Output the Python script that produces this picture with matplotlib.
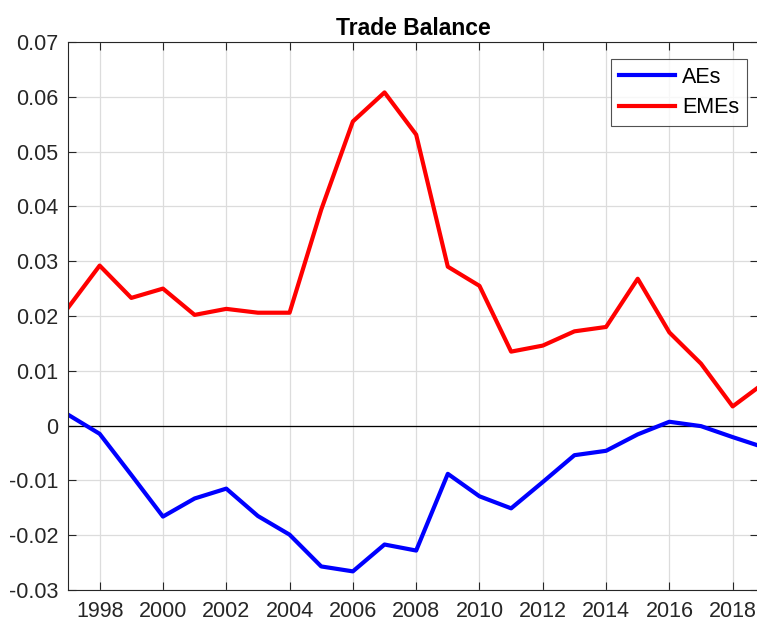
import matplotlib.pyplot as plt

plt.rcParams["font.family"] = ["Liberation Sans", "DejaVu Sans"]

years = list(range(1997, 2020))
aes = [0.0020, -0.0015, -0.0090, -0.0166, -0.0133, -0.0115, -0.0165, -0.0199,
       -0.0257, -0.0266, -0.0217, -0.0228, -0.0088, -0.0129, -0.0151, -0.0103,
       -0.0054, -0.0046, -0.0016, 0.0007, -0.0001, -0.0021, -0.0040]
emes = [0.0215, 0.0292, 0.0233, 0.0250, 0.0202, 0.0213, 0.0206, 0.0206,
        0.0394, 0.0555, 0.0608, 0.0531, 0.0290, 0.0255, 0.0135, 0.0146,
        0.0172, 0.0180, 0.0268, 0.0170, 0.0113, 0.0035, 0.0078]
xticks = list(range(1998, 2020, 2))
yticks = [-0.03, -0.02, -0.01, 0, 0.01, 0.02, 0.03, 0.04, 0.05, 0.06, 0.07]
ylabels = ["-0.03", "-0.02", "-0.01", "0", "0.01", "0.02", "0.03",
           "0.04", "0.05", "0.06", "0.07"]

fig = plt.figure(figsize=(7.57, 6.23), dpi=100)
ax = fig.add_axes([68 / 757, 33 / 623, 690 / 757, 548 / 623])

ax.plot(years, aes, color="#0000ff", lw=3, label="AEs")
ax.plot(years, emes, color="#ff0000", lw=3, label="EMEs")
ax.axhline(0, color="black", lw=0.9, zorder=1)

ax.set_xlim(1997, 2018.8)
ax.set_ylim(-0.03, 0.07)
ax.set_xticks(xticks)
ax.set_yticks(yticks)
ax.set_yticklabels(ylabels)
ax.grid(True, color="#dcdcdc", lw=0.9)
ax.set_axisbelow(True)
ax.tick_params(direction="in", length=6, width=0.8, labelsize=15.5,
               colors="#262626", top=True, right=True)
ax.tick_params(axis="x", pad=8)
ax.tick_params(axis="y", pad=7)
for s in ax.spines.values():
    s.set_color("#262626")
    s.set_linewidth(0.8)

ax.set_title("Trade Balance", fontsize=16.5, fontweight="bold", pad=5)

leg = ax.legend(loc="upper right", bbox_to_anchor=((747 - 68) / 690, 1 - 17 / 548),
                fontsize=15.5, frameon=True, fancybox=False, edgecolor="#262626",
                handlelength=2.6, handletextpad=0.35, borderpad=0.35, labelspacing=0.45,
                borderaxespad=0)
leg.get_frame().set_linewidth(0.8)

fig.savefig("out.png", dpi=100)
